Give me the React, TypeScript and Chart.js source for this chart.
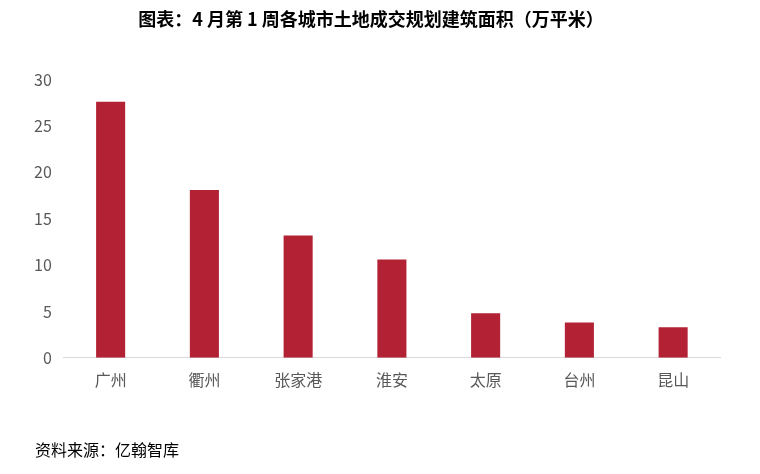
import React, { useEffect, useRef } from "react";
import Chart from "chart.js/auto";

const cities = ["广州", "衢州", "张家港", "淮安", "太原", "台州", "昆山"];
const areas = [27.6, 18.1, 13.2, 10.6, 4.8, 3.8, 3.3];
const yTicks = [0, 5, 10, 15, 20, 25, 30];

const FONT = "'Noto Sans CJK SC', 'Noto Sans', sans-serif";

const App = () => {
  const chartRef: any = useRef(null);
  const chartInstance: any = useRef(null);

  useEffect(() => {
    document.body.style.margin = "0";
    if (chartRef.current) {
      const ctx = chartRef.current.getContext("2d");
      chartInstance.current = new Chart(ctx, {
        type: "bar",
        data: {
          labels: cities,
          datasets: [
            {
              label: "规划建筑面积",
              data: areas,
              backgroundColor: "#B22234",
              barPercentage: 1,
              categoryPercentage: 0.31,
            },
          ],
        },
        options: {
          animation: false,
          responsive: true,
          maintainAspectRatio: false,
          layout: { padding: { left: 22, right: 40, bottom: 71 } },
          plugins: {
            legend: { display: false },
            tooltip: { enabled: false },
            title: {
              display: true,
              text: "图表：4 月第 1 周各城市土地成交规划建筑面积（万平米）",
              color: "#000",
              font: { family: FONT, size: 18, weight: "bold" },
              padding: { top: 8, bottom: 50 },
            },
          },
          scales: {
            x: {
              grid: { display: false, drawTicks: false },
              border: { display: true, color: "#d9d9d9" },
              ticks: {
                color: "#595959",
                font: { family: FONT, size: 16 },
                padding: 13,
              },
            },
            y: {
              min: 0,
              max: 30,
              afterBuildTicks: (axis: any) => {
                axis.ticks = yTicks.map((v) => ({ value: v }));
              },
              grid: { display: false, drawTicks: false },
              border: { display: false },
              ticks: {
                color: "#595959",
                font: { family: FONT, size: 16 },
                padding: 12,
              },
            },
          },
        },
      });
    }

    return () => {
      if (chartInstance.current) {
        chartInstance.current.destroy();
      }
    };
  }, []);

  return (
    <div style={{ position: "relative", width: 760, height: 474 }}>
      <canvas ref={chartRef}></canvas>
      <div
        style={{
          position: "absolute",
          left: 35,
          top: 438,
          fontFamily: FONT,
          fontSize: 16,
          lineHeight: "22px",
          color: "#000",
        }}
      >
        资料来源：亿翰智库
      </div>
    </div>
  );
};

export default App;
